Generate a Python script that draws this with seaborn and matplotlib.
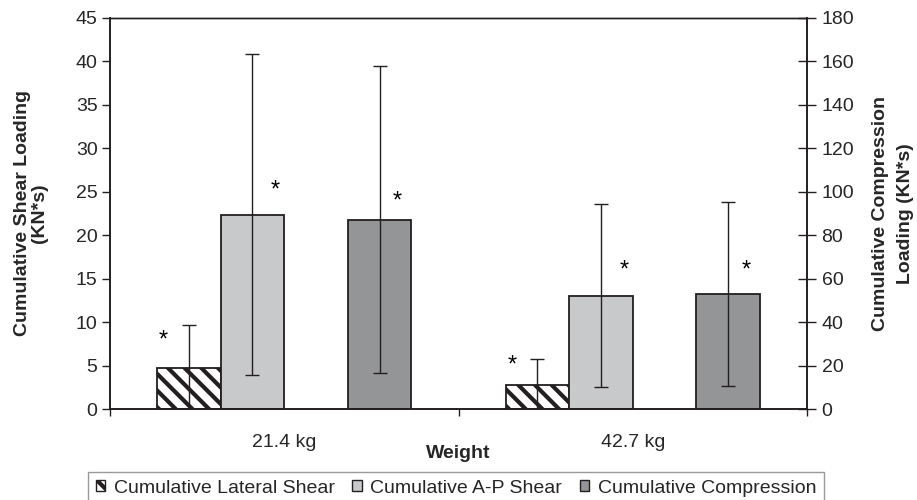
import numpy as np
import pandas as pd
import matplotlib
matplotlib.use("Agg")
import matplotlib.pyplot as plt
import seaborn as sns
from matplotlib.patches import Patch

# ---- data ----
weights = ["21.4 kg", "42.7 kg"]
series = ["Cumulative Lateral Shear", "Cumulative A-P Shear", "gap", "Cumulative Compression"]
lateral_mean = [4.72, 2.76]
lateral_sd = [4.95, 2.99]
ap_mean = [22.36, 13.04]
ap_sd = [18.5, 10.5]
comp_mean = [87.1, 52.9]
comp_sd = [70.7, 42.3]
star_y = {"Cumulative Lateral Shear": [7.9, 5.0],
          "Cumulative A-P Shear": [25.2, 15.9],
          "Cumulative Compression": [23.9, 15.9]}

left_ticks = list(range(0, 50, 5))
right_ticks = list(range(0, 200, 20))

sns.set_theme(style="white")
plt.rcParams["font.family"] = ["Liberation Sans", "DejaVu Sans"]
plt.rcParams["hatch.linewidth"] = 3.0

EDGE = "#231f20"
FS = 14
colors = {"Cumulative Lateral Shear": "white",
          "Cumulative A-P Shear": "#c8c9cb",
          "gap": "white",
          "Cumulative Compression": "#939598"}

shear_df = pd.DataFrame({
    "weight": weights * 2,
    "series": [series[0]] * 2 + [series[1]] * 2,
    "value": lateral_mean + ap_mean,
})
comp_df = pd.DataFrame({
    "weight": weights,
    "series": [series[3]] * 2,
    "value": comp_mean,
})

fig = plt.figure(figsize=(9.17, 5.0), dpi=100)
ax = fig.add_axes([110 / 917, 1 - 409 / 500, (807 - 110) / 917, (409 - 18) / 500])
ax2 = ax.twinx()

sns.barplot(data=shear_df, x="weight", y="value", hue="series", hue_order=series,
            order=weights, palette=colors, width=0.73, gap=0, dodge=True,
            errorbar=None, edgecolor=EDGE, linewidth=1.3, legend=False, ax=ax)
sns.barplot(data=comp_df, x="weight", y="value", hue="series", hue_order=series,
            order=weights, palette=colors, width=0.73, gap=0, dodge=True,
            errorbar=None, edgecolor=EDGE, linewidth=1.3, legend=False, ax=ax2)

def bar_patches(a):
    return sorted([p for p in a.patches if p.get_height() > 0], key=lambda p: p.get_x())

ekw = dict(color=EDGE, lw=1.0, capsize=5, capthick=1.0)
skw = dict(ha="center", va="center", fontsize=17, color="black")
for p in bar_patches(ax):
    h = p.get_height()
    xc = p.get_x() + p.get_width() / 2
    if h in lateral_mean:
        i = lateral_mean.index(h)
        p.set_hatch("\\\\")
        ax.errorbar(xc, h, yerr=lateral_sd[i], **ekw)
        ax.text(p.get_x() + p.get_width() * 0.1, star_y[series[0]][i], "*", **skw)
    else:
        i = ap_mean.index(h)
        ax.errorbar(xc, h, yerr=ap_sd[i], **ekw)
        ax.text(p.get_x() + p.get_width() * 0.86, star_y[series[1]][i], "*", **skw)
for p in bar_patches(ax2):
    h = p.get_height()
    i = comp_mean.index(h)
    xc = p.get_x() + p.get_width() / 2
    ax2.errorbar(xc, h, yerr=comp_sd[i], **ekw)
    ax.text(p.get_x() + p.get_width() * 0.78, star_y[series[3]][i], "*", **skw)

ax.set_ylim(0, 45)
ax2.set_ylim(0, 180)
ax.set_xlim(-0.5, 1.5)
ax.set_yticks(left_ticks)
ax2.set_yticks(right_ticks)
ax.set_xticks([0, 1])
ax.set_xticklabels(weights)
ax.set_xticks([-0.5, 0.5, 1.5], minor=True)
ax.tick_params(axis="x", which="major", length=0, pad=18, labelsize=FS)
ax.tick_params(axis="x", which="minor", length=5, width=1, direction="out", color=EDGE, bottom=True)
ax.tick_params(axis="y", which="major", length=6, width=1, direction="out", color=EDGE, left=True, labelsize=FS, pad=3)
ax2.tick_params(axis="y", which="major", length=13, width=1, direction="inout", color=EDGE, right=True, labelsize=FS, pad=4)

for a in (ax, ax2):
    for s in a.spines.values():
        s.set_color(EDGE)
        s.set_linewidth(1.2)
    a.spines["top"].set_linewidth(1.0)

ax.set_xlabel("Weight", fontsize=FS, fontweight="bold", labelpad=-4)
ax.set_ylabel("Cumulative Shear Loading\n(KN*s)", fontsize=FS, fontweight="bold", labelpad=20,
              linespacing=1.0)
ax2.set_ylabel("Cumulative Compression\nLoading (KN*s)", fontsize=FS, fontweight="bold",
               rotation=90, labelpad=13, linespacing=1.6)

handles = [Patch(facecolor="white", edgecolor=EDGE, hatch="\\\\", lw=1.0),
           Patch(facecolor=colors[series[1]], edgecolor=EDGE, lw=1.0),
           Patch(facecolor=colors[series[3]], edgecolor=EDGE, lw=1.0)]
leg = fig.legend(handles, [series[0], series[1], series[3]], loc="upper left",
                 bbox_to_anchor=(88 / 917, 1 - 472 / 500), ncol=3, frameon=True,
                 fancybox=False, edgecolor="#808080", fontsize=FS,
                 handlelength=0.48, handleheight=0.48, handletextpad=0.45,
                 columnspacing=0.9, borderpad=0.4, borderaxespad=0)
leg.get_frame().set_linewidth(1.0)

fig.savefig("out.png", dpi=100)
